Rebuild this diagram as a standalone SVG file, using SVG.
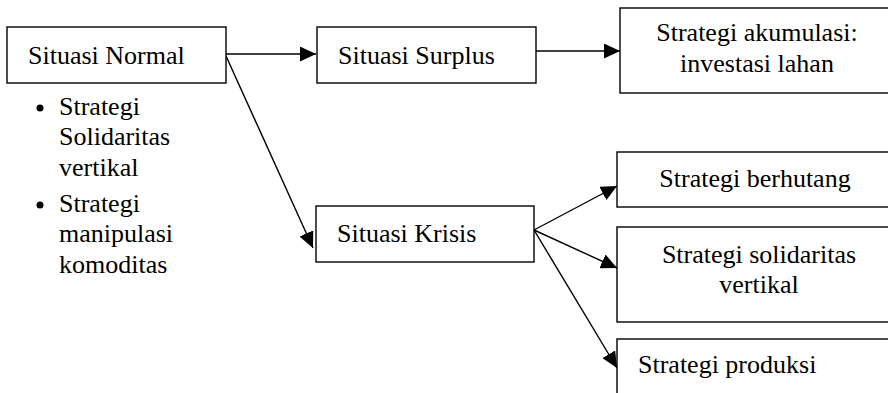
<svg xmlns="http://www.w3.org/2000/svg" width="888" height="393" viewBox="0 0 888 393">
  <style>
    .box { fill: #ffffff; stroke: #000000; stroke-width: 1.4; }
    .lbl { font-family: "Liberation Serif", "Times New Roman", serif; font-size: 26px; fill: #000000; }
    .mid { text-anchor: middle; }
    .edge { stroke: #000000; stroke-width: 1.4; fill: none; marker-end: url(#arrow); }
  </style>
  <defs>
    <marker id="arrow" markerUnits="userSpaceOnUse" markerWidth="16" markerHeight="15" refX="16" refY="7.5" orient="auto">
      <path d="M0,0 L16,7.5 L0,15 z" fill="#000000"/>
    </marker>
  </defs>

  <rect width="888" height="393" fill="#ffffff"/>

  <g id="connectors">
    <line class="edge" x1="226" y1="54" x2="316" y2="54"/>
    <line class="edge" x1="536" y1="51" x2="620" y2="51"/>
    <line class="edge" x1="226" y1="56" x2="313" y2="248"/>
    <line class="edge" x1="534" y1="230" x2="617" y2="186"/>
    <line class="edge" x1="534" y1="230" x2="617" y2="268"/>
    <line class="edge" x1="534" y1="230" x2="617" y2="368"/>
  </g>

  <g id="normal">
    <rect class="box" x="7" y="27" width="219" height="56"/>
    <text class="lbl" x="28" y="64">Situasi Normal</text>
  </g>

  <g id="normal-list">
    <circle cx="40" cy="108" r="3.5" fill="#000000"/>
    <text class="lbl" x="59" y="115">Strategi</text>
    <text class="lbl" x="59" y="145">Solidaritas</text>
    <text class="lbl" x="59" y="176">vertikal</text>
    <circle cx="40" cy="205" r="3.5" fill="#000000"/>
    <text class="lbl" x="59" y="212">Strategi</text>
    <text class="lbl" x="59" y="242">manipulasi</text>
    <text class="lbl" x="59" y="273">komoditas</text>
  </g>

  <g id="surplus">
    <rect class="box" x="317" y="27" width="219" height="56"/>
    <text class="lbl" x="338" y="64">Situasi Surplus</text>
  </g>

  <g id="akumulasi">
    <rect class="box" x="620" y="8" width="280" height="85"/>
    <text class="lbl mid" x="757" y="41">Strategi akumulasi:</text>
    <text class="lbl mid" x="757" y="72">investasi lahan</text>
  </g>

  <g id="krisis">
    <rect class="box" x="316" y="206" width="218" height="56"/>
    <text class="lbl" x="337" y="242">Situasi Krisis</text>
  </g>

  <g id="berhutang">
    <rect class="box" x="617" y="152" width="283" height="55"/>
    <text class="lbl mid" x="755" y="187">Strategi berhutang</text>
  </g>

  <g id="solidaritas">
    <rect class="box" x="617" y="227" width="283" height="95"/>
    <text class="lbl mid" x="759" y="263">Strategi solidaritas</text>
    <text class="lbl mid" x="759" y="293">vertikal</text>
  </g>

  <g id="produksi">
    <rect class="box" x="617" y="339" width="283" height="70"/>
    <text class="lbl" x="638" y="373">Strategi produksi</text>
  </g>
</svg>
